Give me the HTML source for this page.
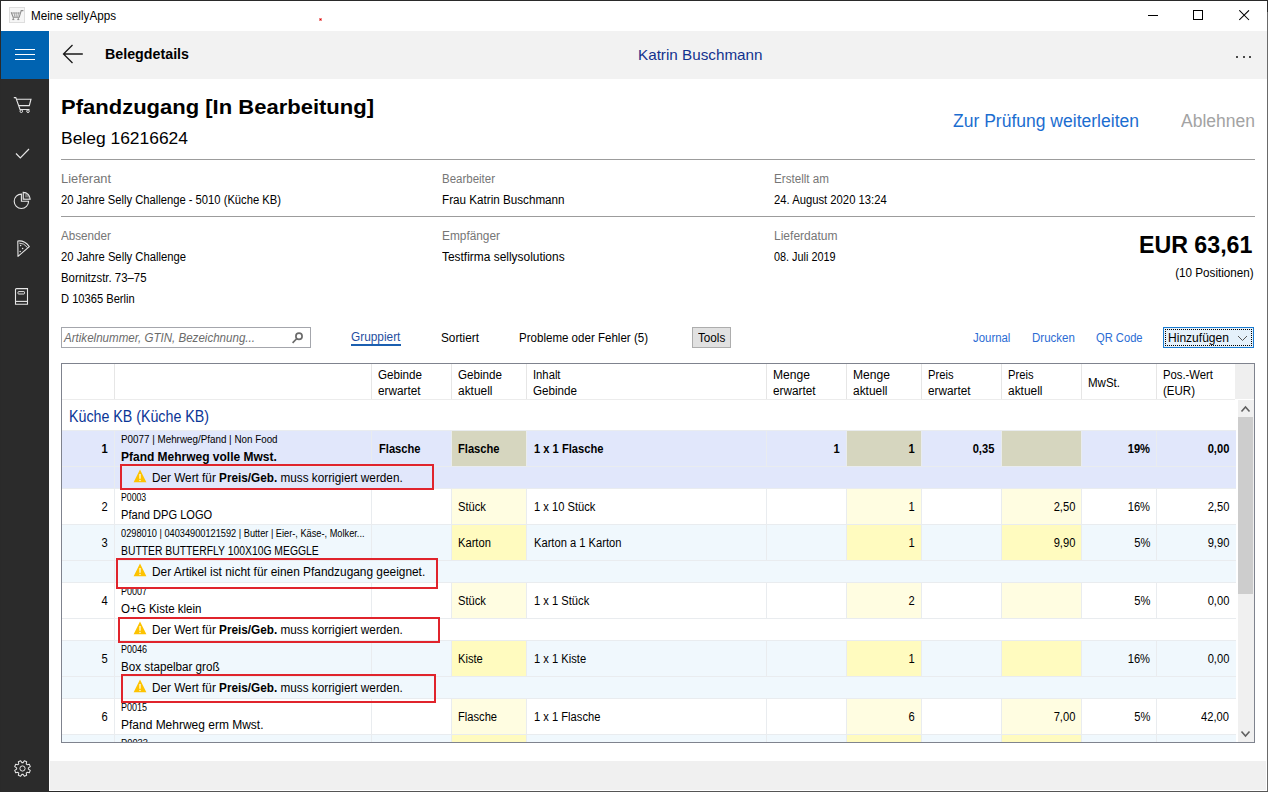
<!DOCTYPE html><html><head><meta charset="utf-8"><style>
html,body{margin:0;padding:0;}
body{width:1268px;height:792px;overflow:hidden;position:relative;background:#fff;font-family:"Liberation Sans", sans-serif;}
b{font-weight:700}
</style></head><body>
<div style="position:absolute;left:0px;top:0px;width:1268px;height:1px;background:#2a2a2a;"></div>
<div style="position:absolute;left:0px;top:0px;width:1px;height:792px;background:#2a2a2a;"></div>
<div style="position:absolute;left:1267px;top:0px;width:1px;height:792px;background:#6a6a6a;"></div>
<div style="position:absolute;left:1267px;top:0px;width:1px;height:12px;background:#2a2a2a;"></div>
<div style="position:absolute;left:0px;top:791px;width:1268px;height:1px;background:#555;"></div>
<div style="position:absolute;left:0px;top:791px;width:100px;height:1px;background:#2a2a2a;"></div>
<div style="position:absolute;left:1px;top:1px;width:1266px;height:30px;background:#fff;"></div>
<svg style="position:absolute;left:9px;top:7px" width="16" height="16" viewBox="0 0 16 16"><rect x="0.5" y="0.5" width="15" height="15" fill="#f6f6f6" stroke="#dedede"/><path d="M2.2 5.2 L4.2 10.3 L10.2 10.3 L12.2 3.6 L14.4 3.6" fill="none" stroke="#8c8c8c" stroke-width="1.1"/><path d="M2.6 6 L11.6 6 M5 5.4 L5.8 9.8 M7.2 5.4 L7.2 9.8 M9.6 5.4 L8.8 9.8" fill="none" stroke="#9a9a9a" stroke-width="0.9"/><path d="M4.3 10.5 v2 M9.3 10.5 v2 M3.3 12.6 h2 M8.3 12.6 h2" stroke="#8c8c8c" stroke-width="1"/></svg>
<div style="transform:scaleX(0.9728);position:absolute;top:-4.16px;font-size:12px;line-height:40px;white-space:nowrap;color:#000;font-weight:400;left:30.5px;transform-origin:0 0;">Meine sellyApps</div>
<div style="position:absolute;left:319px;top:18px;width:3px;height:3px;background:#f08a8a;"></div>
<div style="position:absolute;left:320px;top:19px;width:1px;height:1px;background:#e00000;"></div>
<div style="position:absolute;left:1148px;top:15px;width:10px;height:1px;background:#000;"></div>
<div style="position:absolute;left:1193px;top:10px;width:10px;height:10px;box-sizing:border-box;border:1px solid #000;background:transparent;"></div>
<svg style="position:absolute;left:1239px;top:10px" width="11" height="11" viewBox="0 0 11 11"><path d="M0.3 0.3L10 10M10 0.3L0.3 10" stroke="#000" stroke-width="1.05"/></svg>
<div style="position:absolute;left:1px;top:31px;width:48px;height:760px;background:#2b2b2b;"></div>
<div style="position:absolute;left:1px;top:31px;width:48px;height:48px;background:#0063b1;"></div>
<div style="position:absolute;left:15px;top:49px;width:20px;height:1px;background:#fff;"></div>
<div style="position:absolute;left:15px;top:54px;width:20px;height:1px;background:#fff;"></div>
<div style="position:absolute;left:15px;top:59px;width:20px;height:1px;background:#fff;"></div>
<svg style="position:absolute;left:10px;top:92px" width="26" height="24" viewBox="0 0 26 24"><path d="M3.8 5.6 L5.8 5.6 L10 17.5 L19.5 17.5" fill="none" stroke="#e6e6e6" stroke-width="1.1"/><path d="M6.6 7.2 L21 7.2 L19.3 13.6 L9 13.6" fill="none" stroke="#e6e6e6" stroke-width="1.1"/><circle cx="11.3" cy="19.2" r="1.3" fill="none" stroke="#e6e6e6" stroke-width="1"/><circle cx="18" cy="19.2" r="1.3" fill="none" stroke="#e6e6e6" stroke-width="1"/></svg>
<svg style="position:absolute;left:10px;top:140px" width="26" height="24" viewBox="0 0 26 24"><path d="M6 13.5 L10.3 17.8 L19 9" fill="none" stroke="#e6e6e6" stroke-width="1.2"/></svg>
<svg style="position:absolute;left:10px;top:188px" width="26" height="24" viewBox="0 0 26 24"><path d="M11.4 6.1 A7.2 7.2 0 1 0 18.6 13.3 L11.4 13.3 Z" fill="none" stroke="#e6e6e6" stroke-width="1.1"/><path d="M13.2 4.3 A7 7 0 0 1 20.2 11.3 L13.2 11.3 Z" fill="#777" stroke="#e6e6e6" stroke-width="1.1"/><path d="M14.6 5.8 L14.6 9.9 L18.7 9.9" fill="none" stroke="#2b2b2b" stroke-width="1"/></svg>
<svg style="position:absolute;left:10px;top:236px" width="26" height="24" viewBox="0 0 26 24"><path d="M8 20.3 L7.8 5 Q14.5 4.2 19.3 10.6 Z" fill="none" stroke="#e6e6e6" stroke-width="1.1" stroke-linejoin="round"/><path d="M9.2 7.1 Q14 6.9 17.6 11.6" fill="none" stroke="#e6e6e6" stroke-width="0.9"/><circle cx="10.6" cy="9.6" r="0.75" fill="#e6e6e6"/><circle cx="12.6" cy="12.4" r="0.75" fill="#e6e6e6"/><circle cx="10.2" cy="15.6" r="0.75" fill="#e6e6e6"/></svg>
<svg style="position:absolute;left:10px;top:284px" width="26" height="24" viewBox="0 0 26 24"><path d="M5.5 20.2 L5.5 5.6 Q5.5 4.6 6.5 4.6 L17.5 4.6 L17.5 20.2 Z" fill="none" stroke="#e6e6e6" stroke-width="1.1"/><path d="M5.5 17.4 L17.5 17.4" stroke="#e6e6e6" stroke-width="1.1"/><rect x="8" y="7.6" width="6.5" height="2.4" rx="0.6" fill="none" stroke="#e6e6e6" stroke-width="1"/></svg>
<svg style="position:absolute;left:10px;top:756px" width="26" height="24" viewBox="0 0 26 24"><path d="M13.07 6.63 L14.37 4.72 L16.68 5.68 L16.25 7.95 L17.05 8.75 L19.32 8.32 L20.28 10.63 L18.37 11.93 L18.37 13.07 L20.28 14.37 L19.32 16.68 L17.05 16.25 L16.25 17.05 L16.68 19.32 L14.37 20.28 L13.07 18.37 L11.93 18.37 L10.63 20.28 L8.32 19.32 L8.75 17.05 L7.95 16.25 L5.68 16.68 L4.72 14.37 L6.63 13.07 L6.63 11.93 L4.72 10.63 L5.68 8.32 L7.95 8.75 L8.75 7.95 L8.32 5.68 L10.63 4.72 L11.93 6.63 Z" fill="none" stroke="#e6e6e6" stroke-width="1.05" stroke-linejoin="round"/><circle cx="12.5" cy="12.5" r="2.6" fill="none" stroke="#e6e6e6" stroke-width="1"/></svg>
<div style="position:absolute;left:49px;top:31px;width:1px;height:760px;background:#fdfdfd;"></div>
<div style="position:absolute;left:50px;top:31px;width:1217px;height:48px;background:#f2f2f2;"></div>
<div style="position:absolute;left:50px;top:79px;width:1217px;height:682px;background:#fff;"></div>
<div style="position:absolute;left:50px;top:761px;width:1216px;height:29px;background:#f0f0f0;"></div>
<div style="position:absolute;left:50px;top:790px;width:1217px;height:1px;background:#fff;"></div>
<div style="position:absolute;left:1266px;top:79px;width:1px;height:712px;background:#fff;"></div>
<svg style="position:absolute;left:60px;top:42px" width="26" height="24" viewBox="0 0 26 24"><path d="M3.5 12 L22.8 12 M12.5 3 L3.5 12 L12.5 21" fill="none" stroke="#1a1a1a" stroke-width="1.3"/></svg>
<div style="transform:scaleX(0.9505);position:absolute;top:33.80px;font-size:15px;line-height:40px;white-space:nowrap;color:#000;font-weight:700;left:104.8px;transform-origin:0 0;">Belegdetails</div>
<div style="transform:scaleX(1.0157);position:absolute;top:34.80px;font-size:15px;line-height:40px;white-space:nowrap;color:#11318e;font-weight:400;left:638px;transform-origin:0 0;">Katrin Buschmann</div>
<div style="position:absolute;left:1236px;top:56px;width:2px;height:2px;background:#111;border-radius:1px;"></div>
<div style="position:absolute;left:1242.5px;top:56px;width:2px;height:2px;background:#111;border-radius:1px;"></div>
<div style="position:absolute;left:1249px;top:56px;width:2px;height:2px;background:#111;border-radius:1px;"></div>
<div style="transform:scaleX(1.0480);position:absolute;top:86.72px;font-size:21px;line-height:40px;white-space:nowrap;color:#000;font-weight:700;left:61px;transform-origin:0 0;">Pfandzugang [In Bearbeitung]</div>
<div style="transform:scaleX(1.0255);position:absolute;top:119.11px;font-size:17px;line-height:40px;white-space:nowrap;color:#000;font-weight:400;left:61px;transform-origin:0 0;">Beleg 16216624</div>
<div style="transform:scaleX(0.9733);position:absolute;top:100.76px;font-size:18px;line-height:40px;white-space:nowrap;color:#1b6dd0;font-weight:400;left:952.5px;transform-origin:0 0;">Zur Prüfung weiterleiten</div>
<div style="transform:scaleX(0.9727);position:absolute;top:100.76px;font-size:18px;line-height:40px;white-space:nowrap;color:#a3a3a3;font-weight:400;left:1180.5px;transform-origin:0 0;">Ablehnen</div>
<div style="position:absolute;left:61px;top:159px;width:1194px;height:1px;background:#9c9c9c;"></div>
<div style="position:absolute;left:61px;top:216px;width:1194px;height:1px;background:#9c9c9c;"></div>
<div style="transform:scaleX(1.0706);position:absolute;top:158.84px;font-size:12px;line-height:40px;white-space:nowrap;color:#767676;font-weight:400;left:61px;transform-origin:0 0;">Lieferant</div>
<div style="transform:scaleX(0.9571);position:absolute;top:158.84px;font-size:12px;line-height:40px;white-space:nowrap;color:#767676;font-weight:400;left:442px;transform-origin:0 0;">Bearbeiter</div>
<div style="transform:scaleX(0.9702);position:absolute;top:158.84px;font-size:12px;line-height:40px;white-space:nowrap;color:#767676;font-weight:400;left:774px;transform-origin:0 0;">Erstellt am</div>
<div style="transform:scaleX(0.9342);position:absolute;top:179.84px;font-size:12px;line-height:40px;white-space:nowrap;color:#000;font-weight:400;left:61px;transform-origin:0 0;">20 Jahre Selly Challenge - 5010 (Küche KB)</div>
<div style="transform:scaleX(0.9725);position:absolute;top:179.84px;font-size:12px;line-height:40px;white-space:nowrap;color:#000;font-weight:400;left:442px;transform-origin:0 0;">Frau Katrin Buschmann</div>
<div style="transform:scaleX(0.9383);position:absolute;top:179.84px;font-size:12px;line-height:40px;white-space:nowrap;color:#000;font-weight:400;left:774px;transform-origin:0 0;">24. August 2020 13:24</div>
<div style="transform:scaleX(0.9732);position:absolute;top:215.84px;font-size:12px;line-height:40px;white-space:nowrap;color:#767676;font-weight:400;left:61px;transform-origin:0 0;">Absender</div>
<div style="transform:scaleX(0.9880);position:absolute;top:215.84px;font-size:12px;line-height:40px;white-space:nowrap;color:#767676;font-weight:400;left:442px;transform-origin:0 0;">Empfänger</div>
<div style="transform:scaleX(1.0020);position:absolute;top:215.84px;font-size:12px;line-height:40px;white-space:nowrap;color:#767676;font-weight:400;left:774px;transform-origin:0 0;">Lieferdatum</div>
<div style="transform:scaleX(0.9369);position:absolute;top:236.84px;font-size:12px;line-height:40px;white-space:nowrap;color:#000;font-weight:400;left:61px;transform-origin:0 0;">20 Jahre Selly Challenge</div>
<div style="transform:scaleX(0.9493);position:absolute;top:257.84px;font-size:12px;line-height:40px;white-space:nowrap;color:#000;font-weight:400;left:61px;transform-origin:0 0;">Bornitzstr. 73–75</div>
<div style="transform:scaleX(0.9283);position:absolute;top:278.84px;font-size:12px;line-height:40px;white-space:nowrap;color:#000;font-weight:400;left:61px;transform-origin:0 0;">D 10365 Berlin</div>
<div style="transform:scaleX(0.9937);position:absolute;top:236.84px;font-size:12px;line-height:40px;white-space:nowrap;color:#000;font-weight:400;left:442px;transform-origin:0 0;">Testfirma sellysolutions</div>
<div style="transform:scaleX(0.9051);position:absolute;top:236.84px;font-size:12px;line-height:40px;white-space:nowrap;color:#000;font-weight:400;left:774px;transform-origin:0 0;">08. Juli 2019</div>
<div style="transform:scaleX(0.9667);position:absolute;top:224.68px;font-size:24px;line-height:40px;white-space:nowrap;color:#000;font-weight:700;right:16px;transform-origin:100% 0;">EUR 63,61</div>
<div style="transform:scaleX(0.9725);position:absolute;top:252.84px;font-size:12px;line-height:40px;white-space:nowrap;color:#000;font-weight:400;right:14.5px;transform-origin:100% 0;">(10 Positionen)</div>
<div style="position:absolute;left:61px;top:327px;width:250px;height:21px;box-sizing:border-box;border:1px solid #a4a6ac;background:#fff;"></div>
<div style="transform:scaleX(0.9643);position:absolute;top:317.84px;font-size:12px;line-height:40px;white-space:nowrap;color:#6b6b6b;font-weight:400;font-style:italic;left:63.8px;transform-origin:0 0;">Artikelnummer, GTIN, Bezeichnung...</div>
<svg style="position:absolute;left:290px;top:331px" width="15" height="14" viewBox="0 0 15 14"><circle cx="9" cy="5.3" r="3.1" fill="none" stroke="#6a6a6a" stroke-width="1.7"/><path d="M6.9 7.5 L2.6 11.8" stroke="#6a6a6a" stroke-width="1.7"/></svg>
<div style="transform:scaleX(0.9874);position:absolute;top:316.84px;font-size:12px;line-height:40px;white-space:nowrap;color:#1f4e9f;font-weight:400;left:351.4px;transform-origin:0 0;">Gruppiert</div>
<div style="position:absolute;left:351px;top:344px;width:50px;height:2px;background:#1b5fb0;"></div>
<div style="transform:scaleX(0.9822);position:absolute;top:317.84px;font-size:12px;line-height:40px;white-space:nowrap;color:#000;font-weight:400;left:441px;transform-origin:0 0;">Sortiert</div>
<div style="transform:scaleX(0.9622);position:absolute;top:317.84px;font-size:12px;line-height:40px;white-space:nowrap;color:#000;font-weight:400;left:519.2px;transform-origin:0 0;">Probleme oder Fehler (5)</div>
<div style="position:absolute;left:692px;top:327px;width:39px;height:21px;box-sizing:border-box;border:1px solid #adadad;background:#e1e1e1;"></div>
<div style="transform:scaleX(0.9745);position:absolute;top:317.84px;font-size:12px;line-height:40px;white-space:nowrap;color:#000;font-weight:400;left:697.7px;transform-origin:0 0;">Tools</div>
<div style="transform:scaleX(0.9502);position:absolute;top:317.64px;font-size:12px;line-height:40px;white-space:nowrap;color:#2b6cd4;font-weight:400;left:973.4px;transform-origin:0 0;">Journal</div>
<div style="transform:scaleX(0.9600);position:absolute;top:317.64px;font-size:12px;line-height:40px;white-space:nowrap;color:#2b6cd4;font-weight:400;left:1031.8px;transform-origin:0 0;">Drucken</div>
<div style="transform:scaleX(0.9314);position:absolute;top:317.64px;font-size:12px;line-height:40px;white-space:nowrap;color:#2b6cd4;font-weight:400;left:1095.6px;transform-origin:0 0;">QR Code</div>
<div style="position:absolute;left:1163px;top:327px;width:91px;height:21px;box-sizing:border-box;border:1px solid #1a7bd0;background:#e5f1fb;"></div>
<div style="position:absolute;left:1165px;top:329px;width:87px;height:17px;box-sizing:border-box;border:1px dotted #000;background:transparent;"></div>
<div style="transform:scaleX(1.0046);position:absolute;top:318.34px;font-size:12px;line-height:40px;white-space:nowrap;color:#000;font-weight:400;left:1168.2px;transform-origin:0 0;">Hinzufügen</div>
<svg style="position:absolute;left:1237px;top:335px" width="11" height="7" viewBox="0 0 11 7"><path d="M1 1 L5.5 5.5 L10 1" fill="none" stroke="#555" stroke-width="1"/></svg>
<div style="position:absolute;left:61px;top:363px;width:1194px;height:380px;box-sizing:border-box;border:1px solid #7f838e;background:#fff;"></div>
<div style="position:absolute;left:1235px;top:364px;width:19px;height:35px;background:#efefef;"></div>
<div style="position:absolute;left:114px;top:364px;width:1px;height:35px;background:#e6e6e6;"></div>
<div style="position:absolute;left:371px;top:364px;width:1px;height:35px;background:#e6e6e6;"></div>
<div style="position:absolute;left:451px;top:364px;width:1px;height:35px;background:#e6e6e6;"></div>
<div style="position:absolute;left:526px;top:364px;width:1px;height:35px;background:#e6e6e6;"></div>
<div style="position:absolute;left:766px;top:364px;width:1px;height:35px;background:#e6e6e6;"></div>
<div style="position:absolute;left:846px;top:364px;width:1px;height:35px;background:#e6e6e6;"></div>
<div style="position:absolute;left:921px;top:364px;width:1px;height:35px;background:#e6e6e6;"></div>
<div style="position:absolute;left:1001px;top:364px;width:1px;height:35px;background:#e6e6e6;"></div>
<div style="position:absolute;left:1081px;top:364px;width:1px;height:35px;background:#e6e6e6;"></div>
<div style="position:absolute;left:1156px;top:364px;width:1px;height:35px;background:#e6e6e6;"></div>
<div style="position:absolute;left:62px;top:399px;width:1173px;height:1px;background:#ececec;"></div>
<div style="transform:scaleX(0.9697);position:absolute;top:354.54px;font-size:12px;line-height:40px;white-space:nowrap;color:#000;font-weight:400;left:377.7px;transform-origin:0 0;">Gebinde</div>
<div style="transform:scaleX(0.9802);position:absolute;top:370.54px;font-size:12px;line-height:40px;white-space:nowrap;color:#000;font-weight:400;left:377.7px;transform-origin:0 0;">erwartet</div>
<div style="transform:scaleX(0.9697);position:absolute;top:354.54px;font-size:12px;line-height:40px;white-space:nowrap;color:#000;font-weight:400;left:457.7px;transform-origin:0 0;">Gebinde</div>
<div style="transform:scaleX(0.9946);position:absolute;top:370.54px;font-size:12px;line-height:40px;white-space:nowrap;color:#000;font-weight:400;left:457.7px;transform-origin:0 0;">aktuell</div>
<div style="transform:scaleX(0.9367);position:absolute;top:354.54px;font-size:12px;line-height:40px;white-space:nowrap;color:#000;font-weight:400;left:532.5px;transform-origin:0 0;">Inhalt</div>
<div style="transform:scaleX(0.9697);position:absolute;top:370.54px;font-size:12px;line-height:40px;white-space:nowrap;color:#000;font-weight:400;left:532.5px;transform-origin:0 0;">Gebinde</div>
<div style="transform:scaleX(1.0081);position:absolute;top:354.54px;font-size:12px;line-height:40px;white-space:nowrap;color:#000;font-weight:400;left:772.5px;transform-origin:0 0;">Menge</div>
<div style="transform:scaleX(0.9802);position:absolute;top:370.54px;font-size:12px;line-height:40px;white-space:nowrap;color:#000;font-weight:400;left:772.5px;transform-origin:0 0;">erwartet</div>
<div style="transform:scaleX(1.0081);position:absolute;top:354.54px;font-size:12px;line-height:40px;white-space:nowrap;color:#000;font-weight:400;left:852.5px;transform-origin:0 0;">Menge</div>
<div style="transform:scaleX(0.9946);position:absolute;top:370.54px;font-size:12px;line-height:40px;white-space:nowrap;color:#000;font-weight:400;left:852.5px;transform-origin:0 0;">aktuell</div>
<div style="transform:scaleX(0.9326);position:absolute;top:354.54px;font-size:12px;line-height:40px;white-space:nowrap;color:#000;font-weight:400;left:927.5px;transform-origin:0 0;">Preis</div>
<div style="transform:scaleX(0.9802);position:absolute;top:370.54px;font-size:12px;line-height:40px;white-space:nowrap;color:#000;font-weight:400;left:927.5px;transform-origin:0 0;">erwartet</div>
<div style="transform:scaleX(0.9326);position:absolute;top:354.54px;font-size:12px;line-height:40px;white-space:nowrap;color:#000;font-weight:400;left:1007.5px;transform-origin:0 0;">Preis</div>
<div style="transform:scaleX(0.9946);position:absolute;top:370.54px;font-size:12px;line-height:40px;white-space:nowrap;color:#000;font-weight:400;left:1007.5px;transform-origin:0 0;">aktuell</div>
<div style="transform:scaleX(0.9597);position:absolute;top:363.14px;font-size:12px;line-height:40px;white-space:nowrap;color:#000;font-weight:400;left:1087.5px;transform-origin:0 0;">MwSt.</div>
<div style="transform:scaleX(0.9412);position:absolute;top:354.54px;font-size:12px;line-height:40px;white-space:nowrap;color:#000;font-weight:400;left:1162.5px;transform-origin:0 0;">Pos.-Wert</div>
<div style="transform:scaleX(0.9602);position:absolute;top:370.54px;font-size:12px;line-height:40px;white-space:nowrap;color:#000;font-weight:400;left:1162.5px;transform-origin:0 0;">(EUR)</div>
<div style="position:absolute;left:1238px;top:400px;width:16px;height:342px;background:#f0f0f0;"></div>
<div style="position:absolute;left:1238px;top:417px;width:15px;height:177px;background:#cdcdcd;"></div>
<svg style="position:absolute;left:1240px;top:404px" width="11" height="10" viewBox="0 0 11 10"><path d="M1.5 7.5 L5.5 3 L9.5 7.5" fill="none" stroke="#606060" stroke-width="1.6"/></svg>
<svg style="position:absolute;left:1240px;top:729px" width="11" height="10" viewBox="0 0 11 10"><path d="M1.5 2.5 L5.5 7 L9.5 2.5" fill="none" stroke="#606060" stroke-width="1.6"/></svg>
<div style="transform:scaleX(0.8893);position:absolute;top:396.96px;font-size:16px;line-height:40px;white-space:nowrap;color:#0a3596;font-weight:400;left:69px;transform-origin:0 0;">Küche KB (Küche KB)</div>
<div style="position:absolute;left:62px;top:430px;width:1174px;height:36px;background:#e1e7fb;"></div>
<div style="position:absolute;left:452px;top:430px;width:74px;height:36px;background:#d6d6bf;"></div>
<div style="position:absolute;left:847px;top:430px;width:74px;height:36px;background:#d6d6bf;"></div>
<div style="position:absolute;left:1002px;top:430px;width:79px;height:36px;background:#d6d6bf;"></div>
<div style="position:absolute;left:114px;top:430px;width:1px;height:36px;background:#e9ecef;"></div>
<div style="position:absolute;left:371px;top:430px;width:1px;height:36px;background:#e9ecef;"></div>
<div style="position:absolute;left:451px;top:430px;width:1px;height:36px;background:#e9ecef;"></div>
<div style="position:absolute;left:526px;top:430px;width:1px;height:36px;background:#e9ecef;"></div>
<div style="position:absolute;left:766px;top:430px;width:1px;height:36px;background:#e9ecef;"></div>
<div style="position:absolute;left:846px;top:430px;width:1px;height:36px;background:#e9ecef;"></div>
<div style="position:absolute;left:921px;top:430px;width:1px;height:36px;background:#e9ecef;"></div>
<div style="position:absolute;left:1001px;top:430px;width:1px;height:36px;background:#e9ecef;"></div>
<div style="position:absolute;left:1081px;top:430px;width:1px;height:36px;background:#e9ecef;"></div>
<div style="position:absolute;left:1156px;top:430px;width:1px;height:36px;background:#e9ecef;"></div>
<div style="position:absolute;left:62px;top:430px;width:1174px;height:1px;background:#e9ecef;"></div>
<div style="transform:scaleX(0.9300);position:absolute;top:428.64px;font-size:12px;line-height:40px;white-space:nowrap;color:#000;font-weight:700;right:1160px;transform-origin:100% 0;">1</div>
<div style="transform:scaleX(0.9837);position:absolute;top:419.54px;font-size:10px;line-height:40px;white-space:nowrap;color:#000;font-weight:400;left:121px;transform-origin:0 0;">P0077 | Mehrweg/Pfand | Non Food</div>
<div style="transform:scaleX(0.9985);position:absolute;top:436.84px;font-size:12px;line-height:40px;white-space:nowrap;color:#000;font-weight:700;left:121px;transform-origin:0 0;">Pfand Mehrweg volle Mwst.</div>
<div style="transform:scaleX(0.9300);position:absolute;top:428.64px;font-size:12px;line-height:40px;white-space:nowrap;color:#000;font-weight:700;left:378.5px;transform-origin:0 0;">Flasche</div>
<div style="transform:scaleX(0.9300);position:absolute;top:428.64px;font-size:12px;line-height:40px;white-space:nowrap;color:#000;font-weight:700;left:458px;transform-origin:0 0;">Flasche</div>
<div style="transform:scaleX(0.9300);position:absolute;top:428.64px;font-size:12px;line-height:40px;white-space:nowrap;color:#000;font-weight:700;left:533.5px;transform-origin:0 0;">1 x 1 Flasche</div>
<div style="transform:scaleX(0.9300);position:absolute;top:428.64px;font-size:12px;line-height:40px;white-space:nowrap;color:#000;font-weight:700;right:428.5px;transform-origin:100% 0;">1</div>
<div style="transform:scaleX(0.9300);position:absolute;top:428.64px;font-size:12px;line-height:40px;white-space:nowrap;color:#000;font-weight:700;right:353px;transform-origin:100% 0;">1</div>
<div style="transform:scaleX(0.9300);position:absolute;top:428.64px;font-size:12px;line-height:40px;white-space:nowrap;color:#000;font-weight:700;right:274px;transform-origin:100% 0;">0,35</div>
<div style="transform:scaleX(0.9300);position:absolute;top:428.64px;font-size:12px;line-height:40px;white-space:nowrap;color:#000;font-weight:700;right:118px;transform-origin:100% 0;">19%</div>
<div style="transform:scaleX(0.9300);position:absolute;top:428.64px;font-size:12px;line-height:40px;white-space:nowrap;color:#000;font-weight:700;right:38.5px;transform-origin:100% 0;">0,00</div>
<div style="position:absolute;left:62px;top:466px;width:1174px;height:22px;background:#e1e7fb;"></div>
<div style="position:absolute;left:114px;top:466px;width:1px;height:22px;background:#e9ecef;"></div>
<div style="position:absolute;left:62px;top:466px;width:1174px;height:1px;background:#e9ecef;"></div>
<svg style="position:absolute;left:133px;top:468.8px" width="14" height="14" viewBox="0 0 14 14"><path d="M7 0.6 L13.4 13.3 L0.6 13.3 Z" fill="#fdc300"/><path d="M7 5 L7 9.8" stroke="#fff" stroke-width="1.2"/><circle cx="7" cy="11.5" r="0.7" fill="#fff"/></svg>
<div style="transform:scaleX(0.9797);position:absolute;top:457.84px;font-size:12px;line-height:40px;white-space:nowrap;color:#000;font-weight:400;left:151.6px;transform-origin:0 0;">Der Wert für <b>Preis/Geb.</b> muss korrigiert werden.</div>
<div style="position:absolute;left:62px;top:488px;width:1174px;height:36px;background:#ffffff;"></div>
<div style="position:absolute;left:452px;top:488px;width:74px;height:36px;background:#fffde1;"></div>
<div style="position:absolute;left:847px;top:488px;width:74px;height:36px;background:#fffde1;"></div>
<div style="position:absolute;left:1002px;top:488px;width:79px;height:36px;background:#fffde1;"></div>
<div style="position:absolute;left:114px;top:488px;width:1px;height:36px;background:#e9ecef;"></div>
<div style="position:absolute;left:371px;top:488px;width:1px;height:36px;background:#e9ecef;"></div>
<div style="position:absolute;left:451px;top:488px;width:1px;height:36px;background:#e9ecef;"></div>
<div style="position:absolute;left:526px;top:488px;width:1px;height:36px;background:#e9ecef;"></div>
<div style="position:absolute;left:766px;top:488px;width:1px;height:36px;background:#e9ecef;"></div>
<div style="position:absolute;left:846px;top:488px;width:1px;height:36px;background:#e9ecef;"></div>
<div style="position:absolute;left:921px;top:488px;width:1px;height:36px;background:#e9ecef;"></div>
<div style="position:absolute;left:1001px;top:488px;width:1px;height:36px;background:#e9ecef;"></div>
<div style="position:absolute;left:1081px;top:488px;width:1px;height:36px;background:#e9ecef;"></div>
<div style="position:absolute;left:1156px;top:488px;width:1px;height:36px;background:#e9ecef;"></div>
<div style="position:absolute;left:62px;top:488px;width:1174px;height:1px;background:#e9ecef;"></div>
<div style="transform:scaleX(0.9300);position:absolute;top:486.64px;font-size:12px;line-height:40px;white-space:nowrap;color:#000;font-weight:400;right:1160px;transform-origin:100% 0;">2</div>
<div style="transform:scaleX(0.8713);position:absolute;top:477.54px;font-size:10px;line-height:40px;white-space:nowrap;color:#000;font-weight:400;left:121px;transform-origin:0 0;">P0003</div>
<div style="transform:scaleX(0.9238);position:absolute;top:494.84px;font-size:12px;line-height:40px;white-space:nowrap;color:#000;font-weight:400;left:121px;transform-origin:0 0;">Pfand DPG LOGO</div>
<div style="transform:scaleX(0.9300);position:absolute;top:486.64px;font-size:12px;line-height:40px;white-space:nowrap;color:#000;font-weight:400;left:458px;transform-origin:0 0;">Stück</div>
<div style="transform:scaleX(0.9300);position:absolute;top:486.64px;font-size:12px;line-height:40px;white-space:nowrap;color:#000;font-weight:400;left:533.5px;transform-origin:0 0;">1 x 10 Stück</div>
<div style="transform:scaleX(0.9300);position:absolute;top:486.64px;font-size:12px;line-height:40px;white-space:nowrap;color:#000;font-weight:400;right:353px;transform-origin:100% 0;">1</div>
<div style="transform:scaleX(0.9300);position:absolute;top:486.64px;font-size:12px;line-height:40px;white-space:nowrap;color:#000;font-weight:400;right:193px;transform-origin:100% 0;">2,50</div>
<div style="transform:scaleX(0.9300);position:absolute;top:486.64px;font-size:12px;line-height:40px;white-space:nowrap;color:#000;font-weight:400;right:118px;transform-origin:100% 0;">16%</div>
<div style="transform:scaleX(0.9300);position:absolute;top:486.64px;font-size:12px;line-height:40px;white-space:nowrap;color:#000;font-weight:400;right:38.5px;transform-origin:100% 0;">2,50</div>
<div style="position:absolute;left:62px;top:524px;width:1174px;height:36px;background:#f0f8fd;"></div>
<div style="position:absolute;left:452px;top:524px;width:74px;height:36px;background:#fffbbf;"></div>
<div style="position:absolute;left:847px;top:524px;width:74px;height:36px;background:#fffbbf;"></div>
<div style="position:absolute;left:1002px;top:524px;width:79px;height:36px;background:#fffbbf;"></div>
<div style="position:absolute;left:114px;top:524px;width:1px;height:36px;background:#e9ecef;"></div>
<div style="position:absolute;left:371px;top:524px;width:1px;height:36px;background:#e9ecef;"></div>
<div style="position:absolute;left:451px;top:524px;width:1px;height:36px;background:#e9ecef;"></div>
<div style="position:absolute;left:526px;top:524px;width:1px;height:36px;background:#e9ecef;"></div>
<div style="position:absolute;left:766px;top:524px;width:1px;height:36px;background:#e9ecef;"></div>
<div style="position:absolute;left:846px;top:524px;width:1px;height:36px;background:#e9ecef;"></div>
<div style="position:absolute;left:921px;top:524px;width:1px;height:36px;background:#e9ecef;"></div>
<div style="position:absolute;left:1001px;top:524px;width:1px;height:36px;background:#e9ecef;"></div>
<div style="position:absolute;left:1081px;top:524px;width:1px;height:36px;background:#e9ecef;"></div>
<div style="position:absolute;left:1156px;top:524px;width:1px;height:36px;background:#e9ecef;"></div>
<div style="position:absolute;left:62px;top:524px;width:1174px;height:1px;background:#e9ecef;"></div>
<div style="transform:scaleX(0.9300);position:absolute;top:522.64px;font-size:12px;line-height:40px;white-space:nowrap;color:#000;font-weight:400;right:1160px;transform-origin:100% 0;">3</div>
<div style="transform:scaleX(0.9221);position:absolute;top:513.53px;font-size:10px;line-height:40px;white-space:nowrap;color:#000;font-weight:400;left:121px;transform-origin:0 0;">0298010 | 04034900121592 | Butter | Eier-, Käse-, Molker...</div>
<div style="transform:scaleX(0.8634);position:absolute;top:530.84px;font-size:12px;line-height:40px;white-space:nowrap;color:#000;font-weight:400;left:121px;transform-origin:0 0;">BUTTER BUTTERFLY 100X10G MEGGLE</div>
<div style="transform:scaleX(0.9300);position:absolute;top:522.64px;font-size:12px;line-height:40px;white-space:nowrap;color:#000;font-weight:400;left:458px;transform-origin:0 0;">Karton</div>
<div style="transform:scaleX(0.9300);position:absolute;top:522.64px;font-size:12px;line-height:40px;white-space:nowrap;color:#000;font-weight:400;left:533.5px;transform-origin:0 0;">Karton a 1 Karton</div>
<div style="transform:scaleX(0.9300);position:absolute;top:522.64px;font-size:12px;line-height:40px;white-space:nowrap;color:#000;font-weight:400;right:353px;transform-origin:100% 0;">1</div>
<div style="transform:scaleX(0.9300);position:absolute;top:522.64px;font-size:12px;line-height:40px;white-space:nowrap;color:#000;font-weight:400;right:193px;transform-origin:100% 0;">9,90</div>
<div style="transform:scaleX(0.9300);position:absolute;top:522.64px;font-size:12px;line-height:40px;white-space:nowrap;color:#000;font-weight:400;right:118px;transform-origin:100% 0;">5%</div>
<div style="transform:scaleX(0.9300);position:absolute;top:522.64px;font-size:12px;line-height:40px;white-space:nowrap;color:#000;font-weight:400;right:38.5px;transform-origin:100% 0;">9,90</div>
<div style="position:absolute;left:62px;top:560px;width:1174px;height:22px;background:#f0f8fd;"></div>
<div style="position:absolute;left:114px;top:560px;width:1px;height:22px;background:#e9ecef;"></div>
<div style="position:absolute;left:62px;top:560px;width:1174px;height:1px;background:#e9ecef;"></div>
<svg style="position:absolute;left:133px;top:562.8px" width="14" height="14" viewBox="0 0 14 14"><path d="M7 0.6 L13.4 13.3 L0.6 13.3 Z" fill="#fdc300"/><path d="M7 5 L7 9.8" stroke="#fff" stroke-width="1.2"/><circle cx="7" cy="11.5" r="0.7" fill="#fff"/></svg>
<div style="transform:scaleX(0.9892);position:absolute;top:551.84px;font-size:12px;line-height:40px;white-space:nowrap;color:#000;font-weight:400;left:151.6px;transform-origin:0 0;">Der Artikel ist nicht für einen Pfandzugang geeignet.</div>
<div style="position:absolute;left:62px;top:582px;width:1174px;height:36px;background:#ffffff;"></div>
<div style="position:absolute;left:452px;top:582px;width:74px;height:36px;background:#fffde1;"></div>
<div style="position:absolute;left:847px;top:582px;width:74px;height:36px;background:#fffde1;"></div>
<div style="position:absolute;left:1002px;top:582px;width:79px;height:36px;background:#fffde1;"></div>
<div style="position:absolute;left:114px;top:582px;width:1px;height:36px;background:#e9ecef;"></div>
<div style="position:absolute;left:371px;top:582px;width:1px;height:36px;background:#e9ecef;"></div>
<div style="position:absolute;left:451px;top:582px;width:1px;height:36px;background:#e9ecef;"></div>
<div style="position:absolute;left:526px;top:582px;width:1px;height:36px;background:#e9ecef;"></div>
<div style="position:absolute;left:766px;top:582px;width:1px;height:36px;background:#e9ecef;"></div>
<div style="position:absolute;left:846px;top:582px;width:1px;height:36px;background:#e9ecef;"></div>
<div style="position:absolute;left:921px;top:582px;width:1px;height:36px;background:#e9ecef;"></div>
<div style="position:absolute;left:1001px;top:582px;width:1px;height:36px;background:#e9ecef;"></div>
<div style="position:absolute;left:1081px;top:582px;width:1px;height:36px;background:#e9ecef;"></div>
<div style="position:absolute;left:1156px;top:582px;width:1px;height:36px;background:#e9ecef;"></div>
<div style="position:absolute;left:62px;top:582px;width:1174px;height:1px;background:#e9ecef;"></div>
<div style="transform:scaleX(0.9300);position:absolute;top:580.64px;font-size:12px;line-height:40px;white-space:nowrap;color:#000;font-weight:400;right:1160px;transform-origin:100% 0;">4</div>
<div style="transform:scaleX(0.8990);position:absolute;top:571.53px;font-size:10px;line-height:40px;white-space:nowrap;color:#000;font-weight:400;left:121px;transform-origin:0 0;">P0007</div>
<div style="transform:scaleX(0.9617);position:absolute;top:588.84px;font-size:12px;line-height:40px;white-space:nowrap;color:#000;font-weight:400;left:121px;transform-origin:0 0;">O+G Kiste klein</div>
<div style="transform:scaleX(0.9300);position:absolute;top:580.64px;font-size:12px;line-height:40px;white-space:nowrap;color:#000;font-weight:400;left:458px;transform-origin:0 0;">Stück</div>
<div style="transform:scaleX(0.9300);position:absolute;top:580.64px;font-size:12px;line-height:40px;white-space:nowrap;color:#000;font-weight:400;left:533.5px;transform-origin:0 0;">1 x 1 Stück</div>
<div style="transform:scaleX(0.9300);position:absolute;top:580.64px;font-size:12px;line-height:40px;white-space:nowrap;color:#000;font-weight:400;right:353px;transform-origin:100% 0;">2</div>
<div style="transform:scaleX(0.9300);position:absolute;top:580.64px;font-size:12px;line-height:40px;white-space:nowrap;color:#000;font-weight:400;right:118px;transform-origin:100% 0;">5%</div>
<div style="transform:scaleX(0.9300);position:absolute;top:580.64px;font-size:12px;line-height:40px;white-space:nowrap;color:#000;font-weight:400;right:38.5px;transform-origin:100% 0;">0,00</div>
<div style="position:absolute;left:62px;top:618px;width:1174px;height:22px;background:#ffffff;"></div>
<div style="position:absolute;left:114px;top:618px;width:1px;height:22px;background:#e9ecef;"></div>
<div style="position:absolute;left:62px;top:618px;width:1174px;height:1px;background:#e9ecef;"></div>
<svg style="position:absolute;left:133px;top:620.8px" width="14" height="14" viewBox="0 0 14 14"><path d="M7 0.6 L13.4 13.3 L0.6 13.3 Z" fill="#fdc300"/><path d="M7 5 L7 9.8" stroke="#fff" stroke-width="1.2"/><circle cx="7" cy="11.5" r="0.7" fill="#fff"/></svg>
<div style="transform:scaleX(0.9797);position:absolute;top:609.84px;font-size:12px;line-height:40px;white-space:nowrap;color:#000;font-weight:400;left:151.6px;transform-origin:0 0;">Der Wert für <b>Preis/Geb.</b> muss korrigiert werden.</div>
<div style="position:absolute;left:62px;top:640px;width:1174px;height:36px;background:#f0f8fd;"></div>
<div style="position:absolute;left:452px;top:640px;width:74px;height:36px;background:#fffbbf;"></div>
<div style="position:absolute;left:847px;top:640px;width:74px;height:36px;background:#fffbbf;"></div>
<div style="position:absolute;left:1002px;top:640px;width:79px;height:36px;background:#fffbbf;"></div>
<div style="position:absolute;left:114px;top:640px;width:1px;height:36px;background:#e9ecef;"></div>
<div style="position:absolute;left:371px;top:640px;width:1px;height:36px;background:#e9ecef;"></div>
<div style="position:absolute;left:451px;top:640px;width:1px;height:36px;background:#e9ecef;"></div>
<div style="position:absolute;left:526px;top:640px;width:1px;height:36px;background:#e9ecef;"></div>
<div style="position:absolute;left:766px;top:640px;width:1px;height:36px;background:#e9ecef;"></div>
<div style="position:absolute;left:846px;top:640px;width:1px;height:36px;background:#e9ecef;"></div>
<div style="position:absolute;left:921px;top:640px;width:1px;height:36px;background:#e9ecef;"></div>
<div style="position:absolute;left:1001px;top:640px;width:1px;height:36px;background:#e9ecef;"></div>
<div style="position:absolute;left:1081px;top:640px;width:1px;height:36px;background:#e9ecef;"></div>
<div style="position:absolute;left:1156px;top:640px;width:1px;height:36px;background:#e9ecef;"></div>
<div style="position:absolute;left:62px;top:640px;width:1174px;height:1px;background:#e9ecef;"></div>
<div style="transform:scaleX(0.9300);position:absolute;top:638.64px;font-size:12px;line-height:40px;white-space:nowrap;color:#000;font-weight:400;right:1160px;transform-origin:100% 0;">5</div>
<div style="transform:scaleX(0.8990);position:absolute;top:629.53px;font-size:10px;line-height:40px;white-space:nowrap;color:#000;font-weight:400;left:121px;transform-origin:0 0;">P0046</div>
<div style="transform:scaleX(0.9725);position:absolute;top:646.84px;font-size:12px;line-height:40px;white-space:nowrap;color:#000;font-weight:400;left:121px;transform-origin:0 0;">Box stapelbar groß</div>
<div style="transform:scaleX(0.9300);position:absolute;top:638.64px;font-size:12px;line-height:40px;white-space:nowrap;color:#000;font-weight:400;left:458px;transform-origin:0 0;">Kiste</div>
<div style="transform:scaleX(0.9300);position:absolute;top:638.64px;font-size:12px;line-height:40px;white-space:nowrap;color:#000;font-weight:400;left:533.5px;transform-origin:0 0;">1 x 1 Kiste</div>
<div style="transform:scaleX(0.9300);position:absolute;top:638.64px;font-size:12px;line-height:40px;white-space:nowrap;color:#000;font-weight:400;right:353px;transform-origin:100% 0;">1</div>
<div style="transform:scaleX(0.9300);position:absolute;top:638.64px;font-size:12px;line-height:40px;white-space:nowrap;color:#000;font-weight:400;right:118px;transform-origin:100% 0;">16%</div>
<div style="transform:scaleX(0.9300);position:absolute;top:638.64px;font-size:12px;line-height:40px;white-space:nowrap;color:#000;font-weight:400;right:38.5px;transform-origin:100% 0;">0,00</div>
<div style="position:absolute;left:62px;top:676px;width:1174px;height:22px;background:#f0f8fd;"></div>
<div style="position:absolute;left:114px;top:676px;width:1px;height:22px;background:#e9ecef;"></div>
<div style="position:absolute;left:62px;top:676px;width:1174px;height:1px;background:#e9ecef;"></div>
<svg style="position:absolute;left:133px;top:678.8px" width="14" height="14" viewBox="0 0 14 14"><path d="M7 0.6 L13.4 13.3 L0.6 13.3 Z" fill="#fdc300"/><path d="M7 5 L7 9.8" stroke="#fff" stroke-width="1.2"/><circle cx="7" cy="11.5" r="0.7" fill="#fff"/></svg>
<div style="transform:scaleX(0.9797);position:absolute;top:667.84px;font-size:12px;line-height:40px;white-space:nowrap;color:#000;font-weight:400;left:151.6px;transform-origin:0 0;">Der Wert für <b>Preis/Geb.</b> muss korrigiert werden.</div>
<div style="position:absolute;left:62px;top:698px;width:1174px;height:36px;background:#ffffff;"></div>
<div style="position:absolute;left:452px;top:698px;width:74px;height:36px;background:#fffde1;"></div>
<div style="position:absolute;left:847px;top:698px;width:74px;height:36px;background:#fffde1;"></div>
<div style="position:absolute;left:1002px;top:698px;width:79px;height:36px;background:#fffde1;"></div>
<div style="position:absolute;left:114px;top:698px;width:1px;height:36px;background:#e9ecef;"></div>
<div style="position:absolute;left:371px;top:698px;width:1px;height:36px;background:#e9ecef;"></div>
<div style="position:absolute;left:451px;top:698px;width:1px;height:36px;background:#e9ecef;"></div>
<div style="position:absolute;left:526px;top:698px;width:1px;height:36px;background:#e9ecef;"></div>
<div style="position:absolute;left:766px;top:698px;width:1px;height:36px;background:#e9ecef;"></div>
<div style="position:absolute;left:846px;top:698px;width:1px;height:36px;background:#e9ecef;"></div>
<div style="position:absolute;left:921px;top:698px;width:1px;height:36px;background:#e9ecef;"></div>
<div style="position:absolute;left:1001px;top:698px;width:1px;height:36px;background:#e9ecef;"></div>
<div style="position:absolute;left:1081px;top:698px;width:1px;height:36px;background:#e9ecef;"></div>
<div style="position:absolute;left:1156px;top:698px;width:1px;height:36px;background:#e9ecef;"></div>
<div style="position:absolute;left:62px;top:698px;width:1174px;height:1px;background:#e9ecef;"></div>
<div style="transform:scaleX(0.9300);position:absolute;top:696.64px;font-size:12px;line-height:40px;white-space:nowrap;color:#000;font-weight:400;right:1160px;transform-origin:100% 0;">6</div>
<div style="transform:scaleX(0.8990);position:absolute;top:687.53px;font-size:10px;line-height:40px;white-space:nowrap;color:#000;font-weight:400;left:121px;transform-origin:0 0;">P0015</div>
<div style="transform:scaleX(0.9985);position:absolute;top:704.84px;font-size:12px;line-height:40px;white-space:nowrap;color:#000;font-weight:400;left:121px;transform-origin:0 0;">Pfand Mehrweg erm Mwst.</div>
<div style="transform:scaleX(0.9300);position:absolute;top:696.64px;font-size:12px;line-height:40px;white-space:nowrap;color:#000;font-weight:400;left:458px;transform-origin:0 0;">Flasche</div>
<div style="transform:scaleX(0.9300);position:absolute;top:696.64px;font-size:12px;line-height:40px;white-space:nowrap;color:#000;font-weight:400;left:533.5px;transform-origin:0 0;">1 x 1 Flasche</div>
<div style="transform:scaleX(0.9300);position:absolute;top:696.64px;font-size:12px;line-height:40px;white-space:nowrap;color:#000;font-weight:400;right:353px;transform-origin:100% 0;">6</div>
<div style="transform:scaleX(0.9300);position:absolute;top:696.64px;font-size:12px;line-height:40px;white-space:nowrap;color:#000;font-weight:400;right:193px;transform-origin:100% 0;">7,00</div>
<div style="transform:scaleX(0.9300);position:absolute;top:696.64px;font-size:12px;line-height:40px;white-space:nowrap;color:#000;font-weight:400;right:118px;transform-origin:100% 0;">5%</div>
<div style="transform:scaleX(0.9300);position:absolute;top:696.64px;font-size:12px;line-height:40px;white-space:nowrap;color:#000;font-weight:400;right:38.5px;transform-origin:100% 0;">42,00</div>
<div style="position:absolute;left:62px;top:734px;width:1174px;height:8px;background:#f0f8fd;"></div>
<div style="position:absolute;left:452px;top:734px;width:74px;height:8px;background:#fffbbf;"></div>
<div style="position:absolute;left:847px;top:734px;width:74px;height:8px;background:#fffbbf;"></div>
<div style="position:absolute;left:1002px;top:734px;width:79px;height:8px;background:#fffbbf;"></div>
<div style="position:absolute;left:114px;top:734px;width:1px;height:8px;background:#e9ecef;"></div>
<div style="position:absolute;left:371px;top:734px;width:1px;height:8px;background:#e9ecef;"></div>
<div style="position:absolute;left:451px;top:734px;width:1px;height:8px;background:#e9ecef;"></div>
<div style="position:absolute;left:526px;top:734px;width:1px;height:8px;background:#e9ecef;"></div>
<div style="position:absolute;left:766px;top:734px;width:1px;height:8px;background:#e9ecef;"></div>
<div style="position:absolute;left:846px;top:734px;width:1px;height:8px;background:#e9ecef;"></div>
<div style="position:absolute;left:921px;top:734px;width:1px;height:8px;background:#e9ecef;"></div>
<div style="position:absolute;left:1001px;top:734px;width:1px;height:8px;background:#e9ecef;"></div>
<div style="position:absolute;left:1081px;top:734px;width:1px;height:8px;background:#e9ecef;"></div>
<div style="position:absolute;left:1156px;top:734px;width:1px;height:8px;background:#e9ecef;"></div>
<div style="position:absolute;left:62px;top:734px;width:1174px;height:1px;background:#e9ecef;"></div>
<div style="position:absolute;left:120px;top:464px;width:314px;height:26px;box-sizing:border-box;border:2px solid #e0242c"></div>
<div style="position:absolute;left:116px;top:558px;width:322px;height:31px;box-sizing:border-box;border:2px solid #e0242c"></div>
<div style="position:absolute;left:118px;top:617px;width:322px;height:26px;box-sizing:border-box;border:2px solid #e0242c"></div>
<div style="position:absolute;left:121px;top:674px;width:315px;height:29px;box-sizing:border-box;border:2px solid #e0242c"></div>
<div style="position:absolute;left:62px;top:735px;width:1174px;height:7px;overflow:hidden"><div style="position:absolute;left:59px;top:-11.5px;font-size:10px;line-height:40px;white-space:nowrap;transform:scaleX(0.93);transform-origin:0 0;color:#000">P0033</div></div>
</body></html>
